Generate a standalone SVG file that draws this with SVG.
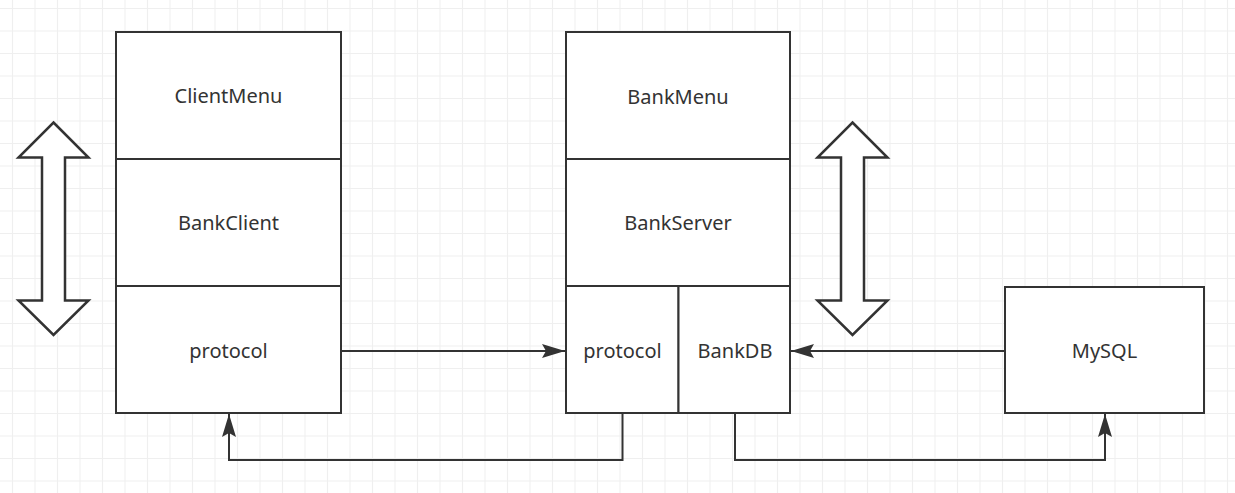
<svg xmlns="http://www.w3.org/2000/svg" width="1235" height="493" viewBox="0 0 1235 493">
<defs>
<pattern id="grid" patternUnits="userSpaceOnUse" x="1.25" y="-2.75" width="22.5" height="22.5">
<path d="M11.25 0 V22.5 M0 11.25 H22.5" stroke="#efefef" stroke-width="1.2" fill="none"/>
</pattern>
<marker id="arr" markerUnits="userSpaceOnUse" markerWidth="26" markerHeight="18" refX="23" refY="8" orient="auto" viewBox="0 0 26 18">
<path d="M23,8 L0,1 L4,8 L0,15 Z" fill="#333"/>
</marker>
</defs>
<style>
.box{fill:#fff;stroke:#333;stroke-width:2}
.dbl{fill:#fff;stroke:#333;stroke-width:2.5;stroke-linejoin:miter}
.lbl{font-family:"Noto Sans","Liberation Sans",sans-serif;font-size:20px;fill:#333;text-anchor:middle}
.edge{fill:none;stroke:#333;stroke-width:2;marker-end:url(#arr)}
</style>
<rect width="1235" height="493" fill="#fff"/>
<rect width="1235" height="493" fill="url(#grid)"/>

<g id="leftArrow">
<path class="dbl" d="M53.5,122.5 L88.5,157.5 L65,157.5 L65,300.5 L88.5,300.5 L53.5,335 L18.5,300.5 L42,300.5 L42,157.5 L18.5,157.5 Z"/>
</g>
<g id="rightArrow">
<path class="dbl" d="M852.5,122.5 L887.5,157.5 L864,157.5 L864,300.5 L887.5,300.5 L852.5,335 L817.5,300.5 L841,300.5 L841,157.5 L817.5,157.5 Z"/>
</g>

<g id="ClientMenu">
<rect class="box" x="116" y="32" width="225" height="127"/>
<text class="lbl" x="228.5" y="103">ClientMenu</text>
</g>
<g id="BankClient">
<rect class="box" x="116" y="159" width="225" height="127"/>
<text class="lbl" x="228.5" y="230">BankClient</text>
</g>
<g id="clientProtocol">
<rect class="box" x="116" y="286" width="225" height="127"/>
<text class="lbl" x="228.5" y="358">protocol</text>
</g>

<g id="BankMenu">
<rect class="box" x="566" y="32" width="224" height="127"/>
<text class="lbl" x="678" y="104">BankMenu</text>
</g>
<g id="BankServer">
<rect class="box" x="566" y="159" width="224" height="127"/>
<text class="lbl" x="678" y="230">BankServer</text>
</g>
<g id="serverProtocol">
<rect class="box" x="566" y="286" width="112.5" height="127"/>
<text class="lbl" x="622.5" y="358">protocol</text>
</g>
<g id="BankDB">
<rect class="box" x="678.5" y="286" width="111.5" height="127"/>
<text class="lbl" x="735" y="358">BankDB</text>
</g>
<g id="MySQL">
<rect class="box" x="1005" y="287" width="199" height="126"/>
<text class="lbl" x="1104.5" y="358">MySQL</text>
</g>

<g id="connectors">
<path class="edge" d="M341,351 L565,351"/>
<path class="edge" d="M1005,351 L791,351"/>
<path class="edge" d="M622.5,413 L622.5,460 L229,460 L229,414"/>
<path class="edge" d="M735,413 L735,460 L1105,460 L1105,414"/>
</g>
</svg>
